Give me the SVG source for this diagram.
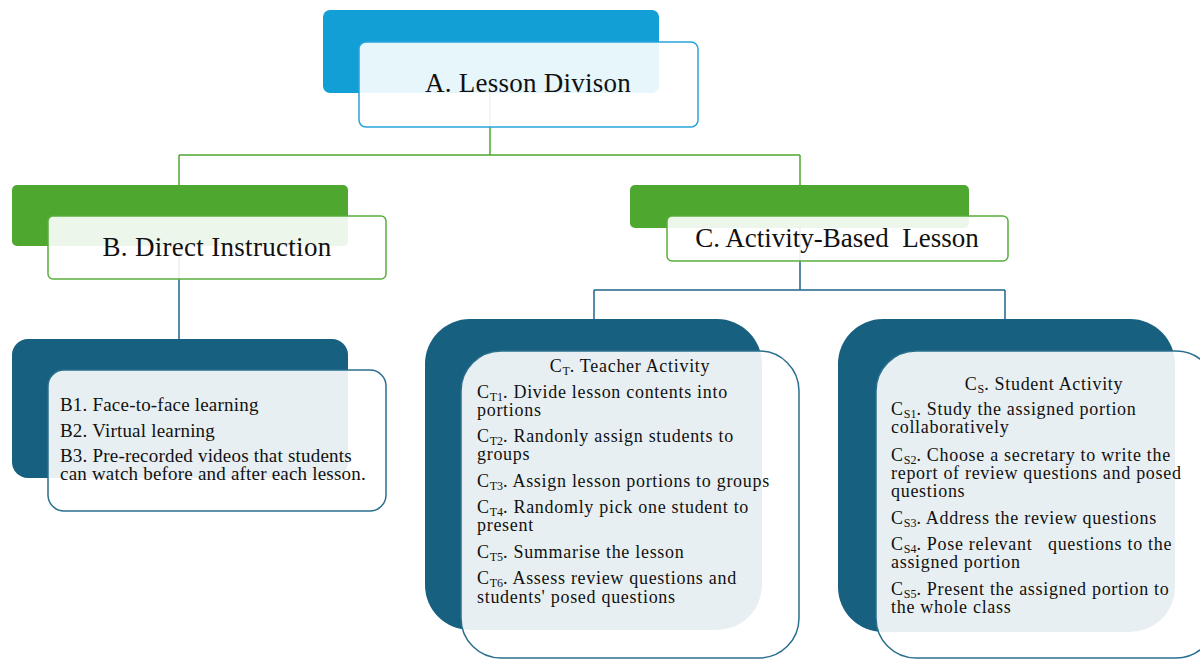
<svg xmlns="http://www.w3.org/2000/svg" width="1200" height="660" viewBox="0 0 1200 660">
<style>
.t{font-family:"Liberation Serif","Times New Roman",serif;fill:#111}
.h{font-size:27px}
.l{font-size:19px;letter-spacing:0.2px}
.s{font-size:18px;letter-spacing:0.7px}
.sub{font-size:12px;letter-spacing:0}
.front{fill:#ffffff;fill-opacity:0.9;stroke-width:1.5}
.cg{fill:none;stroke:#4ea72e;stroke-width:1.5}
.cb{fill:none;stroke:#1f6489;stroke-width:1.5}
</style>
<rect width="1200" height="660" fill="#ffffff"/>
<g id="connectors">
<path class="cg" d="M490 92V155M179 155H800M179 155V185M800 155V185"/>
<path class="cb" d="M179 250V339M800 228V290M594 290H1005M594 290V319M1005 290V319"/>
</g>
<g id="nodeA">
<rect x="323" y="10" width="336" height="83" rx="7" fill="#119fd6"/>
<rect class="front" x="359" y="42" width="339" height="85" rx="7" stroke="#2aa3da"/>
<text class="t h" x="528" y="92" text-anchor="middle" letter-spacing="0.25">A. Lesson Divison</text>
</g>
<g id="nodeB">
<rect x="12" y="185" width="336" height="61" rx="5" fill="#4ea72e"/>
<rect class="front" x="48" y="216" width="338" height="63" rx="5" stroke="#5aaf3c"/>
<text class="t h" x="217" y="256" text-anchor="middle" letter-spacing="0.3">B. Direct Instruction</text>
</g>
<g id="nodeC">
<rect x="630" y="185" width="339" height="43" rx="5" fill="#4ea72e"/>
<rect class="front" x="667" y="216" width="341" height="45" rx="5" stroke="#5aaf3c"/>
<text class="t h" x="837" y="247" text-anchor="middle" xml:space="preserve">C. Activity-Based  Lesson</text>
</g>
<g id="nodeB-list">
<rect x="12" y="339" width="336" height="139" rx="16" fill="#17607f"/>
<rect class="front" x="48" y="370" width="338" height="141" rx="16" stroke="#2a6f8e"/>
<text class="t l" x="60" y="411">B1. Face-to-face learning</text>
<text class="t l" x="60" y="437">B2. Virtual learning</text>
<text class="t l" x="60" y="462">B3. Pre-recorded videos that students<tspan x="60" y="480">can watch before and after each lesson.</tspan></text>
</g>
<g id="nodeCT">
<rect x="425" y="319" width="337" height="311" rx="45" fill="#17607f"/>
<rect class="front" x="461" y="351" width="338" height="307" rx="40" stroke="#2a6f8e"/>
<text class="t s" x="630" y="372" text-anchor="middle">C<tspan class="sub" dy="3">T</tspan><tspan dy="-3">. Teacher Activity</tspan></text>
<text class="t s" x="477" y="398">C<tspan class="sub" dy="3">T1</tspan><tspan dy="-3">. Divide lesson contents into</tspan><tspan x="477" y="416">portions</tspan></text>
<text class="t s" x="477" y="442">C<tspan class="sub" dy="3">T2</tspan><tspan dy="-3">. Randonly assign students to</tspan><tspan x="477" y="460">groups</tspan></text>
<text class="t s" x="477" y="487">C<tspan class="sub" dy="3">T3</tspan><tspan dy="-3">. Assign lesson portions to groups</tspan></text>
<text class="t s" x="477" y="513">C<tspan class="sub" dy="3">T4</tspan><tspan dy="-3">. Randomly pick one student to</tspan><tspan x="477" y="531">present</tspan></text>
<text class="t s" x="477" y="558">C<tspan class="sub" dy="3">T5</tspan><tspan dy="-3">. Summarise the lesson</tspan></text>
<text class="t s" x="477" y="584">C<tspan class="sub" dy="3">T6</tspan><tspan dy="-3">. Assess review questions and</tspan><tspan x="477" y="603">students' posed questions</tspan></text>
</g>
<g id="nodeCS">
<rect x="838" y="319" width="337" height="313" rx="45" fill="#17607f"/>
<rect class="front" x="876" y="351" width="340" height="307" rx="40" stroke="#2a6f8e"/>
<text class="t s" x="1044" y="390" text-anchor="middle">C<tspan class="sub" dy="3">S</tspan><tspan dy="-3">. Student Activity</tspan></text>
<text class="t s" x="891" y="415">C<tspan class="sub" dy="3">S1</tspan><tspan dy="-3">. Study the assigned portion</tspan><tspan x="891" y="433">collaboratively</tspan></text>
<text class="t s" x="891" y="461">C<tspan class="sub" dy="3">S2</tspan><tspan dy="-3">. Choose a secretary to write the</tspan><tspan x="891" y="479">report of review questions and posed</tspan><tspan x="891" y="497">questions</tspan></text>
<text class="t s" x="891" y="524">C<tspan class="sub" dy="3">S3</tspan><tspan dy="-3">. Address the review  questions</tspan></text>
<text class="t s" x="891" y="550">C<tspan class="sub" dy="3">S4</tspan><tspan dy="-3" xml:space="preserve">. Pose relevant   questions to the</tspan><tspan x="891" y="568">assigned portion</tspan></text>
<text class="t s" x="891" y="595">C<tspan class="sub" dy="3">S5</tspan><tspan dy="-3">. Present the assigned portion to</tspan><tspan x="891" y="613">the whole class</tspan></text>
</g>
</svg>
